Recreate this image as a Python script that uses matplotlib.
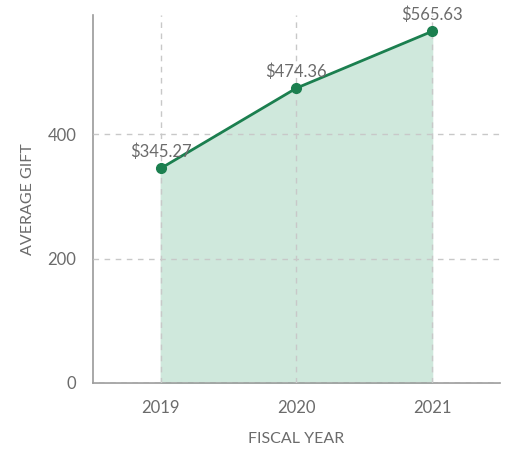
import matplotlib.pyplot as plt

years = [2019, 2020, 2021]
avg_gift = [345.27, 474.36, 565.63]
value_labels = ["$345.27", "$474.36", "$565.63"]
y_ticks = [0, 200, 400]

grey = "#6b6b6b"
green = "#1b7f4f"
fill_green = "#cfe8dc"

plt.rcParams['font.family'] = ['Lato', 'DejaVu Sans']

fig = plt.figure(figsize=(5.07, 4.51), dpi=100)
ax = fig.add_axes([0.1834, 0.1508, 0.8026, 0.816])

ax.fill_between(years, avg_gift, 0, color=fill_green, zorder=1)
ax.plot(years, avg_gift, color=green, lw=2, marker="o", ms=7, zorder=3)

for x, y, s in zip(years, avg_gift, value_labels):
    ax.annotate(s, (x, y), xytext=(0, 6), textcoords="offset points",
                ha="center", va="bottom", fontsize=12, color=grey, zorder=4)

ax.set_xlim(2018.5, 2021.5)
ax.set_ylim(0, 592)
ax.set_xticks(years)
ax.set_yticks(y_ticks)
ax.grid(True, ls=(0, (4, 4)), color="#c8c8c8", lw=1, zorder=2)
ax.set_axisbelow(False)

for side in ["top", "right"]:
    ax.spines[side].set_visible(False)
for side in ["left", "bottom"]:
    ax.spines[side].set_color("#9a9a9a")
    ax.spines[side].set_linewidth(1.2)

ax.tick_params(length=0, pad=12, labelsize=12, colors=grey)
ax.set_xlabel("FISCAL YEAR", fontsize=11.5, color=grey, labelpad=12)
ax.set_ylabel("AVERAGE GIFT", fontsize=11.5, color=grey, labelpad=9)

fig.savefig("out.png", dpi=100)
